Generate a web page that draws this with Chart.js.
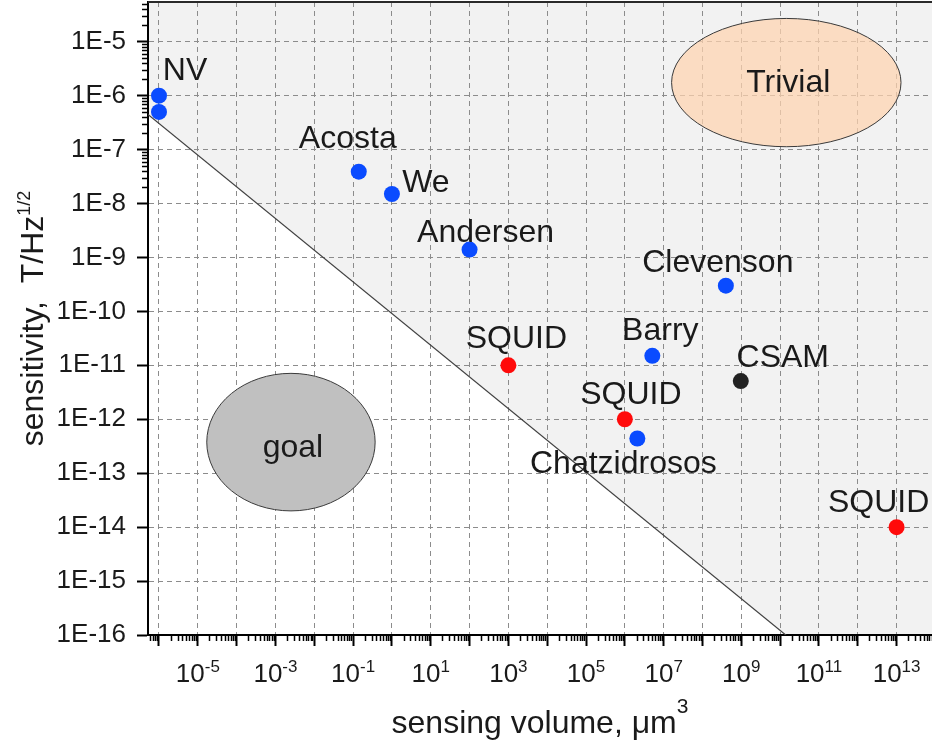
<!DOCTYPE html>
<html>
<head>
<meta charset="utf-8">
<script src="https://cdn.jsdelivr.net/npm/chart.js@4/dist/chart.umd.min.js"></script>
<style>
html,body{margin:0;padding:0;background:#ffffff;}
#wrap{width:932px;height:747px;position:relative;}
</style>
</head>
<body>
<div id="wrap"><canvas id="c"></canvas></div>
<script>
// ---------- data ----------
const BLUE_NAMES = ['NV', '', 'Acosta', 'We', 'Andersen', 'Clevenson', 'Barry', 'Chatzidrosos'];
const BLUE_X = [1e-6, 1e-6, 0.14, 1.0, 100, 4e8, 5.1e6, 2.1e6];
const BLUE_Y = [1e-6, 5e-7, 3.9e-8, 1.5e-8, 1.4e-9, 3e-10, 1.5e-11, 4.4e-13];

const RED_NAMES = ['SQUID', 'SQUID', 'SQUID'];
const RED_X = [1e3, 1e6, 1e13];
const RED_Y = [1e-11, 1e-12, 1e-14];

const BLACK_NAMES = ['CSAM'];
const BLACK_X = [9.7e8];
const BLACK_Y = [5.1e-12];

// boundary line (read at the plot edges)
const LINE_X = [5.2e-7, 8.2e13];
const LINE_Y = [4.5e-7, 6.1e-19];

// ellipse regions: extents in data units
const ELLIPSE_NAMES = ['Trivial', 'goal'];
const ELLIPSE_X = [[1.6e7, 1.3e13], [1.7e-5, 0.37]];
const ELLIPSE_Y = [[2.7e-5, 1.13e-7], [7.1e-12, 2.0e-14]];

// axes
const X_MIN = 5.21e-7, X_MAX = 8.17e13;
const Y_MIN = 1e-16, Y_MAX = 5.45e-5;
const X_TICKS = [1e-6,1e-5,1e-4,1e-3,1e-2,1e-1,1e0,1e1,1e2,1e3,1e4,1e5,1e6,1e7,1e8,1e9,1e10,1e11,1e12,1e13];
const X_TICK_EXPONENTS = ['','-5','','-3','','-1','','1','','3','','5','','7','','9','','11','','13'];
const Y_TICKS = [1e-16,1e-15,1e-14,1e-13,1e-12,1e-11,1e-10,1e-9,1e-8,1e-7,1e-6,1e-5];
const Y_TICK_LABELS = ['1E-16','1E-15','1E-14','1E-13','1E-12','1E-11','1E-10','1E-9','1E-8','1E-7','1E-6','1E-5'];

const X_TITLE = 'sensing volume, \u03BCm';
const X_TITLE_SUP = '3';
const Y_TITLE = 'sensitivity,  T/Hz';
const Y_TITLE_SUP = '1/2';

// ---------- styling ----------
const FONT = '"Liberation Sans", Arial, Helvetica, sans-serif';
const TEXT = '#1a1a1a';
const LABEL_OFFSETS = {
  blue: [[26,-16], null, [-11,-24], [34,-2], [16,-8], [-8,-14], [8,-16], [-14,35]],
  red: [[8,-17], [6,-15], [-18,-15]],
  black: [[42,-14]]
};
const ELLIPSE_STYLE = [
  {fill: 'rgba(253,210,175,0.72)', text: [2, 9]},
  {fill: '#c0c0c0', text: [2, 14.5]}
];

const pts = (xs, ys) => xs.map((x, i) => ({x: x, y: ys[i]}));

const decor = {
  id: 'decor',
  beforeDatasetsDraw(chart) {
    const {ctx, chartArea: a, scales: {x, y}} = chart;
    ctx.save();
    ctx.beginPath();
    ctx.rect(a.left, a.top, a.right - a.left, a.bottom - a.top);
    ctx.clip();
    ELLIPSE_NAMES.forEach((name, i) => {
      const x0 = x.getPixelForValue(ELLIPSE_X[i][0]);
      const x1 = x.getPixelForValue(ELLIPSE_X[i][1]);
      const y0 = y.getPixelForValue(ELLIPSE_Y[i][0]);
      const y1 = y.getPixelForValue(ELLIPSE_Y[i][1]);
      const cx = (x0 + x1) / 2, cy = (y0 + y1) / 2;
      ctx.beginPath();
      ctx.ellipse(cx, cy, Math.abs(x1 - x0) / 2, Math.abs(y1 - y0) / 2, 0, 0, Math.PI * 2);
      ctx.fillStyle = ELLIPSE_STYLE[i].fill;
      ctx.fill();
      ctx.lineWidth = 1;
      ctx.strokeStyle = '#3a3a3a';
      ctx.stroke();
      ctx.fillStyle = TEXT;
      ctx.font = '32px ' + FONT;
      ctx.textAlign = 'center';
      ctx.textBaseline = 'alphabetic';
      ctx.fillText(name, cx + ELLIPSE_STYLE[i].text[0], cy + ELLIPSE_STYLE[i].text[1]);
    });
    ctx.restore();
  },
  afterDatasetsDraw(chart) {
    const ctx = chart.ctx;
    ctx.save();
    ctx.font = '32px ' + FONT;
    ctx.fillStyle = TEXT;
    ctx.textAlign = 'center';
    ctx.textBaseline = 'alphabetic';
    const groups = [['blue', BLUE_NAMES, 1], ['red', RED_NAMES, 2], ['black', BLACK_NAMES, 3]];
    groups.forEach(([key, names, di]) => {
      const meta = chart.getDatasetMeta(di);
      names.forEach((n, j) => {
        if (!n) return;
        const el = meta.data[j];
        const off = LABEL_OFFSETS[key][j];
        ctx.fillText(n, el.x + off[0], el.y + off[1]);
      });
    });
    ctx.restore();
  },
  afterDraw(chart) {
    const {ctx, chartArea: a, scales: {x, y}} = chart;
    ctx.save();
    // top frame
    ctx.strokeStyle = '#2a2a2a';
    ctx.lineWidth = 2;
    ctx.beginPath();
    ctx.moveTo(a.left, a.top);
    ctx.lineTo(a.right, a.top);
    ctx.stroke();
    // minor ticks
    ctx.strokeStyle = '#000';
    ctx.lineWidth = 1.5;
    ctx.beginPath();
    for (let n = -8; n <= 14; n++) {
      for (let k = 2; k <= 9; k++) {
        const v = k * Math.pow(10, n);
        if (v > X_MIN && v < X_MAX) {
          const px = Math.round(x.getPixelForValue(v)) + 0.5;
          ctx.moveTo(px, a.bottom);
          ctx.lineTo(px, a.bottom + 6);
        }
        if (v > Y_MIN && v < Y_MAX) {
          const py = Math.round(y.getPixelForValue(v)) + 0.5;
          ctx.moveTo(a.left, py);
          ctx.lineTo(a.left - 6, py);
        }
      }
    }
    ctx.stroke();
    // x tick labels with superscripts
    ctx.fillStyle = TEXT;
    ctx.textBaseline = 'alphabetic';
    ctx.textAlign = 'left';
    X_TICKS.forEach((v, i) => {
      const e = X_TICK_EXPONENTS[i];
      if (!e) return;
      const px = x.getPixelForValue(v);
      ctx.font = '26px ' + FONT;
      const w1 = ctx.measureText('10').width;
      ctx.font = '17px ' + FONT;
      const w2 = ctx.measureText(e).width;
      const sx = px - (w1 + w2) / 2;
      ctx.font = '26px ' + FONT;
      ctx.fillText('10', sx, 682);
      ctx.font = '17px ' + FONT;
      ctx.fillText(e, sx + w1, 672);
    });
    // x title
    ctx.font = '32px ' + FONT;
    const tw1 = ctx.measureText(X_TITLE).width;
    ctx.font = '21px ' + FONT;
    const tw2 = ctx.measureText(X_TITLE_SUP).width;
    const tx = (a.left + a.right) / 2 - (tw1 + tw2) / 2;
    ctx.font = '32px ' + FONT;
    ctx.fillText(X_TITLE, tx, 733);
    ctx.font = '21px ' + FONT;
    ctx.fillText(X_TITLE_SUP, tx + tw1, 713);
    // y title (rotated)
    ctx.translate(43, (a.top + a.bottom) / 2);
    ctx.rotate(-Math.PI / 2);
    ctx.font = '32px ' + FONT;
    const yw1 = ctx.measureText(Y_TITLE).width;
    ctx.font = '18px ' + FONT;
    const yw2 = ctx.measureText(Y_TITLE_SUP).width;
    const ty = -(yw1 + yw2) / 2;
    ctx.font = '32px ' + FONT;
    ctx.fillText(Y_TITLE, ty, 0);
    ctx.font = '18px ' + FONT;
    ctx.fillText(Y_TITLE_SUP, ty + yw1, -13);
    ctx.restore();
  }
};

const chart = new Chart(document.getElementById('c'), {
  type: 'scatter',
  data: {
    datasets: [
      {
        data: pts(LINE_X, LINE_Y),
        showLine: true,
        borderColor: '#404040',
        borderWidth: 1.2,
        pointRadius: 0,
        fill: 'end',
        backgroundColor: '#f2f2f2'
      },
      {data: pts(BLUE_X, BLUE_Y), pointRadius: 8, pointBorderWidth: 0, pointBackgroundColor: '#0a4bff', backgroundColor: '#0a4bff'},
      {data: pts(RED_X, RED_Y), pointRadius: 8, pointBorderWidth: 0, pointBackgroundColor: '#ff0a0a', backgroundColor: '#ff0a0a'},
      {data: pts(BLACK_X, BLACK_Y), pointRadius: 8, pointBorderWidth: 0, pointBackgroundColor: '#222222', backgroundColor: '#222222'}
    ]
  },
  options: {
    responsive: true,
    maintainAspectRatio: false,
    animation: false,
    events: [],
    layout: {autoPadding: false, padding: {top: 2, right: 0, left: 0, bottom: 0}},
    plugins: {
      legend: {display: false},
      tooltip: {enabled: false},
      filler: {drawTime: 'beforeDraw'}
    },
    scales: {
      x: {
        type: 'logarithmic',
        position: 'bottom',
        min: X_MIN,
        max: X_MAX,
        bounds: 'data',
        afterBuildTicks: s => { s.ticks = X_TICKS.map(v => ({value: v})); },
        afterFit: s => { s.height = 112; s.paddingLeft = 0; s.paddingRight = 0; },
        ticks: {autoSkip: false, maxRotation: 0, callback: () => ''},
        grid: {color: '#8c8c8c', lineWidth: 1, drawTicks: true, tickLength: 11, tickColor: '#000', tickWidth: 2},
        border: {display: true, color: '#000', width: 2, dash: [5, 4]}
      },
      y: {
        type: 'logarithmic',
        position: 'left',
        min: Y_MIN,
        max: Y_MAX,
        bounds: 'data',
        afterBuildTicks: s => { s.ticks = Y_TICKS.map(v => ({value: v})); },
        afterFit: s => { s.width = 148; s.paddingTop = 0; s.paddingBottom = 0; },
        ticks: {
          autoSkip: false,
          padding: 11,
          color: TEXT,
          font: {family: FONT, size: 26},
          callback: (v, i) => Y_TICK_LABELS[i]
        },
        grid: {color: '#8c8c8c', lineWidth: 1, drawTicks: true, tickLength: 11, tickColor: '#000', tickWidth: 2},
        border: {display: true, color: '#000', width: 2, dash: [5, 4]}
      }
    }
  },
  plugins: [decor]
});
</script>
</body>
</html>
